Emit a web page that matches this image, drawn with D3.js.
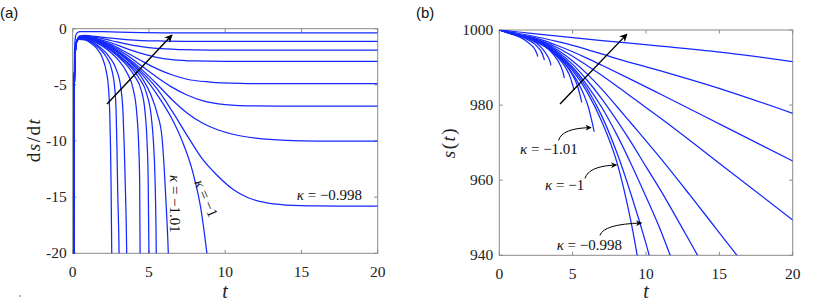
<!DOCTYPE html>
<html><head><meta charset="utf-8">
<script src="https://cdn.jsdelivr.net/npm/d3@7"></script>
<style>
html,body{margin:0;padding:0;background:#fff;}
svg text{font-family:"Liberation Serif","Times New Roman",serif;}
</style></head>
<body><svg id="c" width="831" height="306"></svg>
<script>
// ---------- DATA ----------
const tTicks = [0, 5, 10, 15, 20];
const dsTicks = [0, -5, -10, -15, -20];
const sTicks = [940, 960, 980, 1000];

// panel (a): ds/dt curves, [t, ds/dt]; top plateau first, then kappa=-1, -1.01 and smaller kappa
const st = [[0,-40],[0.06,-20],[0.09,-8],[0.13,-3.5],[0.2,-1.6],[0.3,-1.0]];
const a0 = [[0,-40],[0.06,-20],[0.09,-6],[0.13,-1.6],[0.2,-0.6],[0.3,-0.36],[0.5,-0.27],[1,-0.25],[2,-0.27],[3,-0.31],[4.5,-0.35],[6,-0.37],[9,-0.38],[20,-0.38]];
const a1 = [[0.45,-0.64],[0.8,-0.6],[1.5,-0.68],[2.5,-0.85],[3.5,-0.98],[4.5,-1.06],[6,-1.1],[8,-1.12],[20,-1.12]];
const a2 = [[0.45,-0.7],[0.8,-0.67],[1.5,-0.78],[2.5,-1.05],[3.5,-1.35],[4.5,-1.6],[5.5,-1.76],[7,-1.86],[9,-1.9],[20,-1.9]];
const a3 = [[0.45,-0.74],[0.8,-0.71],[1.5,-0.86],[2.5,-1.25],[3.5,-1.75],[4.5,-2.2],[5.5,-2.55],[6.5,-2.75],[8,-2.87],[10,-2.9],[20,-2.9]];
const a4 = [[0.45,-0.77],[0.8,-0.74],[1.5,-0.9],[2.5,-1.4],[3.5,-2.1],[4.5,-2.85],[5.5,-3.55],[6.5,-4.1],[7.5,-4.5],[9,-4.75],[11,-4.87],[13,-4.9],[20,-4.9]];
const a5 = [[0.45,-0.8],[0.8,-0.77],[1.5,-0.95],[2.5,-1.5],[3.5,-2.3],[4.5,-3.3],[5.5,-4.3],[6.5,-5.2],[7.5,-5.9],[8.5,-6.4],[10,-6.75],[12,-6.88],[14,-6.9],[20,-6.9]];
const a6 = [[0.45,-0.82],[0.8,-0.79],[1.5,-1.0],[2.5,-1.6],[3.5,-2.5],[4.5,-3.6],[5.5,-4.9],[6.5,-6.3],[7.5,-7.5],[8.5,-8.4],[9.5,-9.0],[10.5,-9.4],[12,-9.75],[14,-9.95],[16,-10],[20,-10]];
const a7 = [[0.45,-0.84],[0.8,-0.81],[1.5,-1.02],[2.5,-1.65],[3.5,-2.6],[4.5,-3.8],[5.5,-5.3],[6.5,-7.3],[7.5,-9.5],[8.5,-11.6],[9.5,-13.1],[10.5,-14.3],[11.5,-15.05],[12.5,-15.45],[14,-15.7],[16,-15.78],[20,-15.8]];
const a8 = [[0.45,-0.86],[0.8,-0.83],[1.5,-1.05],[2.5,-1.7],[3.5,-2.7],[4.5,-4.0],[5.5,-5.8],[6.5,-8.0],[7.15,-9.9],[7.9,-12.9],[8.4,-16],[8.8,-20],[9.2,-25]];
const a9 = [[0.45,-0.88],[0.8,-0.85],[1.5,-1.1],[2.5,-1.8],[3.5,-2.9],[4.5,-4.3],[5.1,-5.8],[5.55,-7.6],[5.85,-9.6],[6.0,-12.4],[6.14,-16],[6.27,-20],[6.33,-23]];
const a10 = [[0.45,-0.89],[0.8,-0.87],[1.5,-1.12],[2.5,-1.85],[3.5,-3.0],[4.3,-4.3],[4.85,-5.8],[5.15,-7.8],[5.3,-10.2],[5.39,-13],[5.48,-20],[5.5,-24]];
const a11 = [[0.45,-0.9],[0.8,-0.88],[1.5,-1.15],[2.5,-1.95],[3.3,-2.9],[4.0,-4.1],[4.5,-5.5],[4.75,-7.5],[4.88,-10.2],[4.95,-13.5],[5.0,-20],[5.02,-24]];
const a12 = [[0.45,-0.91],[0.8,-0.9],[1.5,-1.2],[2.3,-1.9],[3.0,-2.8],[3.55,-3.9],[3.95,-5.3],[4.2,-7.5],[4.33,-10.5],[4.39,-13.5],[4.42,-20],[4.43,-24]];
const a13 = [[0.45,-0.92],[0.8,-0.93],[1.3,-1.2],[1.8,-1.65],[2.4,-2.5],[2.85,-3.6],[3.15,-5.2],[3.3,-7.5],[3.38,-10.5],[3.44,-13.5],[3.54,-20],[3.57,-24]];
const a14 = [[0.45,-0.93],[0.8,-0.96],[1.2,-1.2],[1.7,-1.7],[2.2,-2.5],[2.55,-3.6],[2.75,-5.2],[2.85,-7.5],[2.9,-10.5],[2.95,-14.4],[3.04,-20],[3.07,-24]];
const a15 = [[0.45,-0.94],[0.8,-1.0],[1.2,-1.3],[1.6,-1.8],[1.95,-2.6],[2.2,-3.8],[2.35,-5.3],[2.43,-7.5],[2.48,-10.5],[2.52,-14.4],[2.56,-20],[2.58,-24]];
const dsdtSeries = [a0, a1, a2, a3, a4, a5, a6, a7, a8, a9, a10, a11, a12, a13, a14, a15];

// panel (b): s(t) curves, [t, s]
const b0 = [[0,1000],[1,999.6],[2,999.2],[4,998.4],[7,997.2],[11,995.7],[15.5,993.9],[20,991.6]];
const b1 = [[0,1000],[1,999.3],[2,998.6],[3,997.8],[4,996.9],[5,995.9],[6,994.8],[8,992.4],[11,989.1],[15.5,983.8],[20,977.8]];
const b2 = [[0,1000],[1,999.0],[2,998.3],[3,997.25],[4,995.8],[5,994.2],[6,992.45],[7,990.6],[9,986.8],[11,982.9],[15.5,974.0],[20,965.1]];
const b3 = [[0,1000],[1,999.0],[2,998.15],[3,996.9],[4,995.2],[5,993.0],[6,990.5],[7,987.9],[8,985.1],[9,982.2],[11,976.5],[15.5,963.0],[20,949.4]];
const b4 = [[0,1000],[1,999.0],[2,998.1],[3,996.7],[4,994.6],[5,991.75],[6,988.25],[7,984.2],[8,979.7],[9,975.1],[11,965.8],[13,956.0],[15,946.0],[16.2,940.0],[17,936]];
const b5 = [[0,1000],[1,998.95],[2,998.0],[3,996.5],[4,994.15],[5,990.85],[6,986.55],[7,981.6],[8,976.0],[9,970.0],[10,963.6],[11,957.3],[12,950.5],[13,943.6],[13.5,940.1],[14,936.7]];
const b6 = [[0,1000],[1,998.9],[2,997.9],[3,996.3],[4,993.75],[5,990.1],[6,985.2],[7,979.3],[8,972.2],[9,964.2],[10,955.6],[11,946.6],[11.6,940.5],[12,936.5]];
const b7 = [[0,1000],[1,998.9],[2,997.85],[3,996.2],[4,993.55],[5,989.7],[6,984.3],[7,977.0],[8,967.5],[9,956.0],[10,943.1],[10.5,936]];
const b8 = [[0,1000],[1,998.85],[2,997.8],[3,996.05],[4,993.3],[5,989.2],[6,983.4],[7,975.5],[8,965.0],[8.5,957.5],[9,948.5],[9.4,940.0],[9.7,933]];
const b9 = [[0,1000],[1,998.85],[2,997.75],[3,995.9],[4,993.0],[4.5,991.0],[5.2,987.1],[5.6,984.2],[5.94,981.0],[6.1,979.1],[6.27,976.4],[6.4,974.2],[6.46,972.9]];
const b10 = [[0,1000],[1,998.85],[2,997.75],[3,995.9],[3.5,994.7],[4.3,991.8],[4.8,989.25],[5.1,987.2],[5.3,985.4],[5.42,983.9],[5.52,982.4],[5.62,980.7]];
const b11 = [[0,1000],[1,998.85],[2,997.8],[3,995.95],[4,992.65],[4.4,990.7],[4.7,988.65],[4.87,987.05],[4.96,985.9],[5.03,985],[5.09,984.0]];
const b12 = [[0,1000],[1,998.85],[2,997.8],[3,996.0],[3.5,994.3],[3.9,992.4],[4.15,990.7],[4.3,989.25],[4.37,988.35],[4.43,987.2]];
const b13 = [[0,1000],[1,998.85],[2,997.7],[2.5,996.6],[2.8,995.6],[3.0,994.7],[3.2,993.6],[3.35,992.6],[3.45,991.7],[3.52,990.6]];
const b14 = [[0,1000],[1,998.85],[1.5,998.2],[2,997.3],[2.4,996.3],[2.65,995.3],[2.85,994.3],[2.97,993.3],[3.03,992.6],[3.07,992.0]];
const b15 = [[0,1000],[0.5,999.3],[1,998.7],[1.5,997.9],[1.9,996.9],[2.2,995.9],[2.4,995.0],[2.52,994.1],[2.58,993.5],[2.62,992.9]];
const sSeries = [b0, b1, b2, b3, b4, b5, b6, b7, b8, b9, b10, b11, b12, b13, b14, b15];

// annotation anchors (data units)
const arrowA = [[2.25,-6.7],[6.51,-0.56]];
const arrowB = [[4.14,980.3],[8.7,998.9]];
const labelsA = [
  {value:"−0.998", t:14.69, v:-15.25, rot:0, anchor:"start"},
  {value:"−1.01", t:6.74, v:-15.6, rot:90, anchor:"middle"},
  {value:"−1", t:8.77, v:-15.1, rot:67, anchor:"middle"}
];
const labelsB = [
  {value:"−1.01", t:1.41, v:967.1, from:[4.04,970.57], ctrl:[4.27,973.9], to:[6.25,974.0]},
  {value:"−1", t:3.12, v:957.3, from:[5.84,960.45], ctrl:[6.08,963.8], to:[7.99,964.05]},
  {value:"−0.998", t:3.91, v:941.4, from:[6.86,945.3], ctrl:[7.1,948.3], to:[9.69,948.6]}
];

// ---------- DRAW ----------
const svg = d3.select("#c");
const BLUE = "#1428ff", FRAME = "#8a8a8a";

const defs = svg.append("defs");
[["ah",8],["ah2",6]].forEach(([id,sz]) => {
  defs.append("marker").attr("id",id).attr("viewBox","0 0 10 10")
    .attr("refX",9).attr("refY",5).attr("markerWidth",sz).attr("markerHeight",sz)
    .attr("markerUnits","userSpaceOnUse").attr("orient","auto")
    .append("path").attr("d","M0,0 L10,5 L0,10 L3,5 Z").attr("fill","#000");
});

function kappaText(sel, value) {
  sel.append("tspan").attr("font-style","italic").text("κ");
  sel.append("tspan").text(" = " + value);
}

function panel(id, x, y, xt, yt, fmtY) {
  const g = svg.append("g");
  const [x0,x1] = x.range(), [y0,y1] = y.range();
  g.append("clipPath").attr("id", id).append("rect")
    .attr("x", x0).attr("y", y1).attr("width", x1-x0).attr("height", y0-y1);
  const tl = 3.5;
  xt.forEach(d => {
    g.append("line").attr("x1",x(d)).attr("x2",x(d)).attr("y1",y0).attr("y2",y0-tl).attr("stroke",FRAME);
    g.append("line").attr("x1",x(d)).attr("x2",x(d)).attr("y1",y1).attr("y2",y1+tl).attr("stroke",FRAME);
    g.append("text").attr("x",x(d)).attr("y",y0+23.5).attr("text-anchor","middle")
      .attr("font-size",15.5).attr("fill","#222").text(d);
  });
  yt.forEach(d => {
    g.append("line").attr("x1",x0).attr("x2",x0+tl).attr("y1",y(d)).attr("y2",y(d)).attr("stroke",FRAME);
    g.append("line").attr("x1",x1).attr("x2",x1-tl).attr("y1",y(d)).attr("y2",y(d)).attr("stroke",FRAME);
    g.append("text").attr("x",x0-6).attr("y",y(d)+5).attr("text-anchor","end")
      .attr("font-size",15.5).attr("fill","#222").text(fmtY(d));
  });
  return g;
}

// Panel (a)
const xA = d3.scaleLinear().domain([0,20]).range([72.7,377.7]);
const yA = d3.scaleLinear().domain([-20,0]).range([253.3,28.7]);
const gA = panel("clipA", xA, yA, tTicks, dsTicks, d => String(d));
gA.append("rect").attr("x",72.7).attr("y",28.7).attr("width",305).attr("height",224.6)
  .attr("fill","none").attr("stroke",FRAME).attr("stroke-width",1);
const lineA = d3.line().x(d => xA(d[0])).y(d => yA(d[1])).curve(d3.curveMonotoneX);
gA.append("g").attr("clip-path","url(#clipA)").selectAll("path").data(dsdtSeries).join("path")
  .attr("d", (d,i) => lineA(i === 0 ? d : st.concat(d)))
  .attr("fill","none").attr("stroke",BLUE).attr("stroke-width",1.25);
gA.append("line").attr("x1",xA(arrowA[0][0])).attr("y1",yA(arrowA[0][1]))
  .attr("x2",xA(arrowA[1][0])).attr("y2",yA(arrowA[1][1]))
  .attr("stroke","#000").attr("stroke-width",1.4).attr("marker-end","url(#ah)");
labelsA.forEach(l => {
  const tx = gA.append("text").attr("transform",`translate(${xA(l.t)},${yA(l.v)}) rotate(${l.rot})`)
    .attr("text-anchor",l.anchor).attr("dy", l.rot ? "0.35em" : 0)
    .attr("font-size",15).attr("fill","#111");
  kappaText(tx, l.value);
});
// axis labels (a)
const ylA = gA.append("text").attr("transform","translate(39.5,140) rotate(-90)")
  .attr("text-anchor","middle").attr("font-size",19).attr("fill","#222").attr("letter-spacing",1.5);
ylA.append("tspan").text("d");
ylA.append("tspan").attr("font-style","italic").text("s");
ylA.append("tspan").text("/d");
ylA.append("tspan").attr("font-style","italic").text("t");
gA.append("text").attr("x",225).attr("y",298).attr("text-anchor","middle")
  .attr("font-size",20).attr("font-style","italic").attr("fill","#222").text("t");

// Panel (b)
const xB = d3.scaleLinear().domain([0,20]).range([499.3,792.7]);
const yB = d3.scaleLinear().domain([940,1000]).range([255.3,30]);
const gB = panel("clipB", xB, yB, tTicks, sTicks, d => String(d));
gB.append("rect").attr("x",499.3).attr("y",30).attr("width",293.4).attr("height",225.3)
  .attr("fill","none").attr("stroke",FRAME).attr("stroke-width",1);
const lineB = d3.line().x(d => xB(d[0])).y(d => yB(d[1])).curve(d3.curveMonotoneX);
gB.append("g").attr("clip-path","url(#clipB)").selectAll("path").data(sSeries).join("path")
  .attr("d", d => lineB(d))
  .attr("fill","none").attr("stroke",BLUE).attr("stroke-width",1.25);
gB.append("line").attr("x1",xB(arrowB[0][0])).attr("y1",yB(arrowB[0][1]))
  .attr("x2",xB(arrowB[1][0])).attr("y2",yB(arrowB[1][1]))
  .attr("stroke","#000").attr("stroke-width",1.4).attr("marker-end","url(#ah)");
labelsB.forEach(l => {
  const tx = gB.append("text").attr("x",xB(l.t)).attr("y",yB(l.v)).attr("font-size",15).attr("fill","#111");
  kappaText(tx, l.value);
  const p = d3.path();
  p.moveTo(xB(l.from[0]), yB(l.from[1]));
  p.quadraticCurveTo(xB(l.ctrl[0]), yB(l.ctrl[1]), xB(l.to[0]), yB(l.to[1]));
  gB.append("path").attr("d", p.toString()).attr("fill","none").attr("stroke","#000")
    .attr("stroke-width",1).attr("marker-end","url(#ah2)");
});
const ylB = gB.append("text").attr("transform","translate(455,142.5) rotate(-90)")
  .attr("text-anchor","middle").attr("font-size",19).attr("fill","#222").attr("letter-spacing",1.5);
ylB.append("tspan").attr("font-style","italic").text("s");
ylB.append("tspan").text("(");
ylB.append("tspan").attr("font-style","italic").text("t");
ylB.append("tspan").text(")");
gB.append("text").attr("x",646).attr("y",298).attr("text-anchor","middle")
  .attr("font-size",20).attr("font-style","italic").attr("fill","#222").text("t");

// panel letters
svg.append("text").attr("x",0).attr("y",18).attr("font-size",15)
  .style("font-family","'Liberation Sans',Arial,sans-serif").attr("fill","#111").text("(a)");
svg.append("text").attr("x",416).attr("y",18).attr("font-size",15)
  .style("font-family","'Liberation Sans',Arial,sans-serif").attr("fill","#111").text("(b)");
svg.append("circle").attr("cx",20).attr("cy",296).attr("r",1).attr("fill","#a6a37a");
</script></body></html>
